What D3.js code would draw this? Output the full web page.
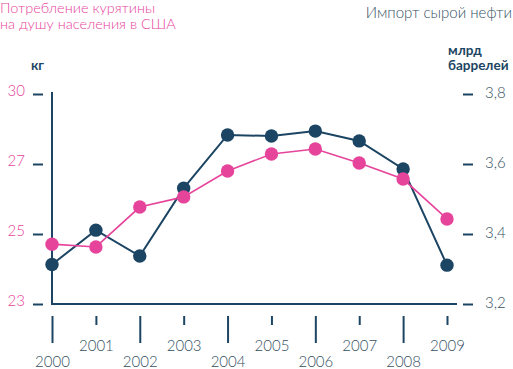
<!DOCTYPE html>
<html>
<head>
<meta charset="utf-8">
<script src="https://cdn.jsdelivr.net/npm/d3@7"></script>
<style>
  body { margin: 0; background: #fff; }
  svg { display: block; font-family: Lato, "Open Sans", sans-serif; font-weight: 300; }
  .domain { display: none; }
</style>
</head>
<body>
<svg id="chart" width="513" height="369"></svg>
<script>
const years = [2000, 2001, 2002, 2003, 2004, 2005, 2006, 2007, 2008, 2009];
// per capita chicken consumption, kg
const chicken = [24.71, 24.63, 25.77, 26.06, 26.8, 27.43, 27.64, 27.04, 26.57, 25.43];
// crude oil imports, bn barrels
const oil = [3.313, 3.411, 3.337, 3.531, 3.683, 3.68, 3.694, 3.666, 3.586, 3.311];
const leftTicks = [23, 25, 27, 30];
const rightTicks = [3.2, 3.4, 3.6, 3.8];

const pink = "#e6449b";
const navy = "#1c4563";
const grey = "#34505f";

const svg = d3.select("#chart");

const x = d3.scaleLinear().domain([2000, 2009]).range([52, 447]);
const yR = d3.scaleLinear().domain([3.2, 3.8]).range([304, 94]);
// left axis labels are spaced evenly, not linearly
const yL = d3.scaleLinear().domain(leftTicks).range(rightTicks.map(yR));

// titles
svg.append("text").attr("x", 0).attr("y", 13).attr("fill", pink)
  .style("font-size", "14.5px").text("Потребление курятины");
svg.append("text").attr("x", 0).attr("y", 29).attr("fill", pink)
  .style("font-size", "14.5px").text("на душу населения в США");
svg.append("text").attr("x", 512).attr("y", 18).attr("fill", grey)
  .attr("text-anchor", "end").style("font-size", "15px").text("Импорт сырой нефти");

svg.append("text").attr("x", 31).attr("y", 70).attr("fill", navy)
  .style("font-size", "13.5px").style("font-weight", 700).text("кг");
svg.append("text").attr("x", 448).attr("y", 55).attr("fill", navy)
  .style("font-size", "13.5px").style("font-weight", 700).text("млрд");
svg.append("text").attr("x", 448).attr("y", 70).attr("fill", navy)
  .style("font-size", "13.5px").style("font-weight", 700).text("баррелей");

// left axis
const gl = svg.append("g").attr("transform", "translate(43,0)")
  .call(d3.axisLeft(yL).tickValues(leftTicks).tickSize(10).tickPadding(8)
    .tickFormat(d3.format("d")));
gl.selectAll("line").attr("stroke", navy).attr("stroke-width", 2);
gl.selectAll("text").attr("fill", pink).attr("dy", "0.07em")
  .style("font-size", "15px").style("font-family", "Lato, sans-serif");

// right axis
const gr = svg.append("g").attr("transform", "translate(463,0)")
  .call(d3.axisRight(yR).tickValues(rightTicks).tickSize(10).tickPadding(12)
    .tickFormat(d => d.toFixed(1).replace(".", ",")));
gr.selectAll("line").attr("stroke", navy).attr("stroke-width", 2);
gr.selectAll("text").attr("fill", grey).attr("dy", "0.2em")
  .style("font-size", "15px").style("font-family", "Lato, sans-serif");

// axis frame
svg.append("line").attr("x1", 52).attr("x2", 52).attr("y1", 92).attr("y2", 305)
  .attr("stroke", navy).attr("stroke-width", 2);
svg.append("line").attr("x1", 51).attr("x2", 457).attr("y1", 304).attr("y2", 304)
  .attr("stroke", navy).attr("stroke-width", 2);

// bottom axis, alternating tick lengths
const gb = svg.append("g").attr("transform", "translate(0,316)")
  .call(d3.axisBottom(x).tickValues(years).tickSize(27).tickFormat(d3.format("d")));
gb.selectAll(".tick line").attr("stroke", navy).attr("stroke-width", 2)
  .attr("y2", d => d % 2 ? 9 : 27);
gb.selectAll(".tick text").attr("fill", grey).attr("dy", null)
  .attr("y", d => d % 2 ? 35 : 51)
  .style("font-size", "15px").style("font-family", "Lato, sans-serif");

// series
const lineL = d3.line().x((d, i) => x(years[i])).y(d => yL(d));
const lineR = d3.line().x((d, i) => x(years[i])).y(d => yR(d));

svg.append("path").datum(oil).attr("d", lineR)
  .attr("fill", "none").attr("stroke", navy).attr("stroke-width", 2);
svg.append("path").datum(chicken).attr("d", lineL)
  .attr("fill", "none").attr("stroke", pink).attr("stroke-width", 1.6);

svg.append("g").selectAll("circle").data(oil).join("circle")
  .attr("cx", (d, i) => x(years[i])).attr("cy", d => yR(d))
  .attr("r", 6.7).attr("fill", navy);
svg.append("g").selectAll("circle").data(chicken).join("circle")
  .attr("cx", (d, i) => x(years[i])).attr("cy", d => yL(d))
  .attr("r", 6.7).attr("fill", pink);
</script>
</body>
</html>
